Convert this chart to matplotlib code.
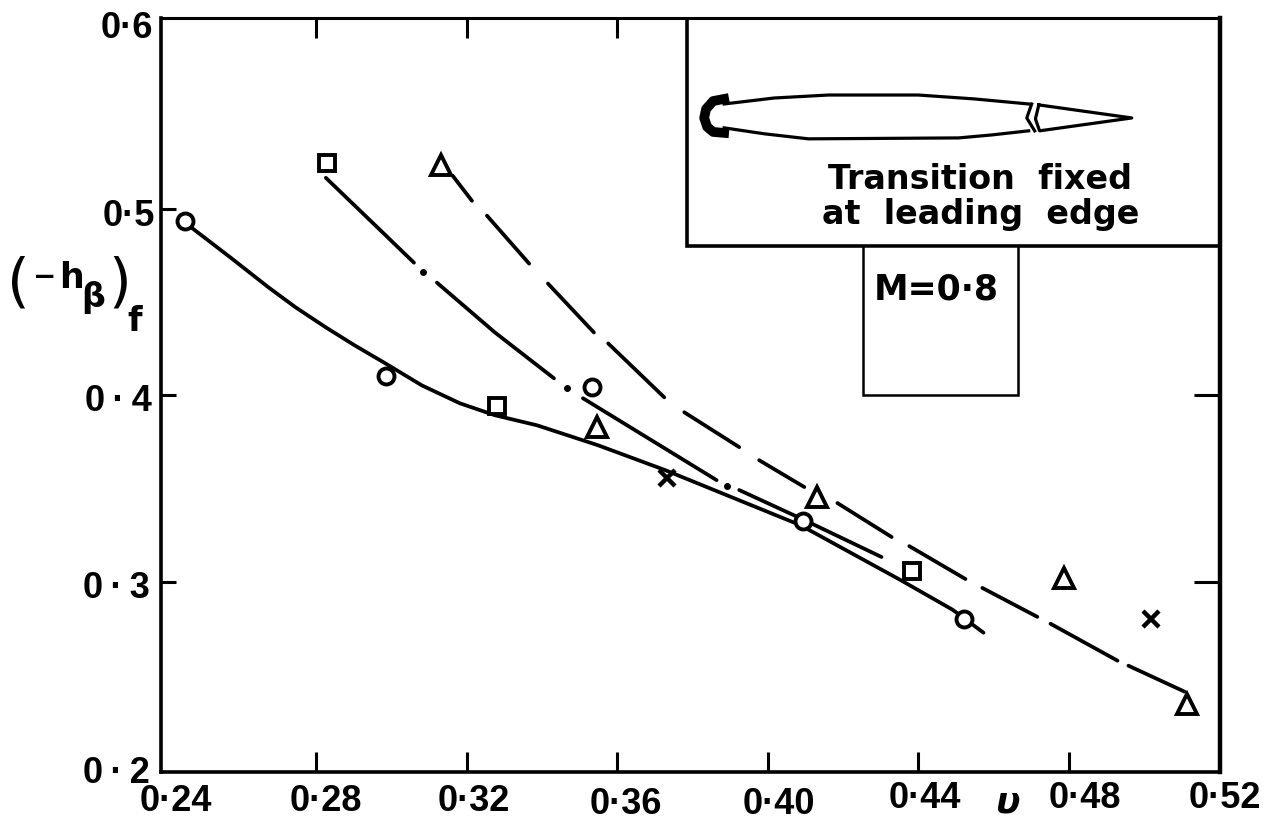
import matplotlib
matplotlib.use('Agg')
import matplotlib.pyplot as plt
from matplotlib.patches import Rectangle
from matplotlib.transforms import ScaledTranslation

circle_x = [0.2451, 0.2985, 0.3533, 0.4094, 0.4520]
circle_y = [0.4936, 0.4102, 0.4043, 0.3326, 0.2802]
square_x = [0.2828, 0.3280, 0.4384]
square_y = [0.5246, 0.3941, 0.3059]
triangle_x = [0.3131, 0.3546, 0.4131, 0.4788, 0.5113]
triangle_y = [0.5235, 0.3829, 0.3455, 0.3021, 0.2348]
cross_x = [0.3733, 0.5017]
cross_y = [0.3556, 0.2802]

solid_x = [0.2469, 0.2573, 0.2674, 0.2746, 0.2826, 0.2903, 0.2980, 0.3081, 0.3182, 0.3275, 0.3387, 0.3549, 0.3727, 0.3890, 0.4086, 0.4352, 0.4491, 0.4573]
solid_y = [0.4900, 0.4739, 0.4579, 0.4472, 0.4365, 0.4268, 0.4177, 0.4054, 0.3958, 0.3894, 0.3840, 0.3733, 0.3600, 0.3466, 0.3305, 0.3011, 0.2851, 0.2728]

# chain-dot curve, one pair of lists per stroke
chain = [
    ([0.2826, 0.2980, 0.3060], [0.5167, 0.4868, 0.4712]),
    ([0.3121, 0.3275, 0.3432], [0.4605, 0.4338, 0.4092]),
    ([0.3509, 0.3864], [0.3985, 0.3546]),
    ([0.3924, 0.4097, 0.4302], [0.3493, 0.3332, 0.3134]),
]
chain_dot_x = [0.3084, 0.3467, 0.3892]
chain_dot_y = [0.4664, 0.4038, 0.3514]

# long dashes
dashes = [
    ([0.3163, 0.3214], [0.5178, 0.5044]),
    ([0.3254, 0.3366], [0.4964, 0.4707]),
    ([0.3416, 0.3538], [0.4600, 0.4338]),
    ([0.3576, 0.3725], [0.4279, 0.3990]),
    ([0.3778, 0.3924], [0.3910, 0.3723]),
    ([0.3977, 0.4097], [0.3653, 0.3509]),
    ([0.4185, 0.4329], [0.3423, 0.3241]),
    ([0.4376, 0.4525], [0.3192, 0.3016]),
    ([0.4570, 0.4716], [0.2968, 0.2813]),
    ([0.4751, 0.4929], [0.2776, 0.2578]),
    ([0.4958, 0.5107], [0.2551, 0.2412]),
]

xticks = [0.24, 0.28, 0.32, 0.36, 0.40, 0.44, 0.48, 0.52]
xlabels = ['0·24', '0·28', '0·32', '0·36', '0·40', '0·44', '0·48', '0·52']
yticks = [0.2, 0.3, 0.4, 0.5, 0.6]
ylabels = ['0\u2009·\u20092', '0\u2009·\u20093', '0\u2009·\u20094', '0·5', '0·6']

foil_top_x = [0.3884, 0.4017, 0.4161, 0.4400, 0.4549, 0.4693]
foil_top_y = [0.5563, 0.5595, 0.5611, 0.5611, 0.5590, 0.5563]
foil_bot_x = [0.3884, 0.3991, 0.4108, 0.4507, 0.4595, 0.4693]
foil_bot_y = [0.5435, 0.5403, 0.5376, 0.5381, 0.5397, 0.5419]
notch_x = [0.4701, 0.4688, 0.4709]
notch_y = [0.5563, 0.5488, 0.5419]
flap_x = [0.4720, 0.4967, 0.4722, 0.4711, 0.4720]
flap_y = [0.5558, 0.5488, 0.5419, 0.5483, 0.5558]
nose_x = [0.3884, 0.3855, 0.3836, 0.3831, 0.3839, 0.3855, 0.3884]
nose_y = [0.5590, 0.5579, 0.5536, 0.5488, 0.5440, 0.5413, 0.5408]

W, H = 1266, 820
plt.rcParams['font.family'] = ['Liberation Sans', 'DejaVu Sans']
fig = plt.figure(figsize=(W / 100, H / 100), dpi=100)
ax = fig.add_axes([161 / W, 1 - 773 / H, (1219.5 - 161) / W, (773 - 19) / H])
ax.set_xlim(0.2388, 0.52)
ax.set_ylim(0.1981, 0.6024)
ax.spines['left'].set_linewidth(2.6)
ax.spines['bottom'].set_linewidth(2.6)
ax.spines['top'].set_linewidth(2.2)
ax.spines['right'].set_linewidth(3.2)

ax.set_xticks(xticks)
ax.set_xticklabels(xlabels, fontweight='bold')
ax.set_yticks(yticks)
ax.set_yticklabels(ylabels, fontweight='bold')
ax.tick_params(axis='x', direction='in', length=14.5, width=2.2, labelsize=26, pad=8, top=True)
ax.tick_params(axis='y', direction='in', length=11, width=2.2, labelsize=26, pad=6, right=True)

# the drawing only has some of the ticks on each side
xt = ax.xaxis.get_major_ticks()
yt = ax.yaxis.get_major_ticks()
for i in [0, 7]:
    xt[i].tick1line.set_visible(False)
for i in [0, 4, 5, 6, 7]:
    xt[i].tick2line.set_visible(False)
for i in [0, 4]:
    yt[i].tick1line.set_visible(False)
for i in [0, 3, 4]:
    yt[i].tick2line.set_visible(False)
for i in [1, 2]:
    yt[i].tick2line.set_markersize(19)

# hand lettered, so the labels do not sit square on their ticks
xlabel_dx = [10, 10, 7, 9, 11, 7, 16, 5]
xlabel_dy = [0, 0, 0, -3, -3, 3, 3, 3]
for lab, dx, dy in zip(ax.get_xticklabels(), xlabel_dx, xlabel_dy):
    lab.set_transform(lab.get_transform() + ScaledTranslation(dx / 100, dy / 100, fig.dpi_scale_trans))
ylabel_dx = [-3, -3, -1, 2, 0]
ylabel_dy = [0, -2, -1, -3, -1]
for lab, dx, dy in zip(ax.get_yticklabels(), ylabel_dx, ylabel_dy):
    lab.set_transform(lab.get_transform() + ScaledTranslation(dx / 100, dy / 100, fig.dpi_scale_trans))

lw = 2.7
ax.plot(solid_x, solid_y, color='k', lw=lw, solid_capstyle='round')
for xs, ys in chain:
    ax.plot(xs, ys, color='k', lw=lw, solid_capstyle='round')
ax.plot(chain_dot_x, chain_dot_y, 'o', color='k', ms=4)
for xs, ys in dashes:
    ax.plot(xs, ys, color='k', lw=lw, solid_capstyle='round')

ms = dict(mfc='white', mec='k', ls='none', zorder=5)
ax.plot(circle_x, circle_y, 'o', ms=11.5, mew=2.8, **ms)
ax.plot(square_x, square_y, 's', ms=12, mew=2.8, **ms)
ax.plot(triangle_x, triangle_y, '^', ms=15, mew=2.8, **ms)
ax.plot(cross_x, cross_y, 'x', color='k', ms=11, mew=3.2, ls='none', zorder=5)

# inset frame and M box
ax.add_patch(Rectangle((0.3785, 0.4803), 0.1415, 0.1221, fc='white', ec='k', lw=2.6, zorder=2))
ax.add_patch(Rectangle((0.4254, 0.4000), 0.0410, 0.0803, fc='white', ec='k', lw=1.8, zorder=2))

for xs, ys in [(foil_top_x, foil_top_y), (foil_bot_x, foil_bot_y), (notch_x, notch_y), (flap_x, flap_y)]:
    ax.plot(xs, ys, color='k', lw=2.3, zorder=3)
ax.plot(nose_x, nose_y, color='k', lw=7, zorder=3)

ax.text(0.4565, 0.5162, 'Transition  fixed', ha='center', va='center', fontsize=24, fontweight='bold', family='DejaVu Sans', zorder=4)
ax.text(0.4565, 0.4975, 'at  leading  edge', ha='center', va='center', fontsize=24, fontweight='bold', family='DejaVu Sans', zorder=4)
ax.text(0.4448, 0.4573, 'M=0·8', ha='center', va='center', fontsize=25, fontweight='bold', family='DejaVu Sans', zorder=4)


def px_text(x, y, s, size, **kw):
    fig.text(x / W, 1 - y / H, s, fontsize=size, ha='center', va='center', **kw)


px_text(1007, 803, 'υ', 26, family='DejaVu Sans', style='italic', fontweight='bold')

# y axis title, put together piece by piece
px_text(18, 284, '(', 42, family='DejaVu Sans')
px_text(45, 277, '\u2212', 20, family='DejaVu Sans', fontweight='bold')
px_text(72, 278, 'h', 25, family='DejaVu Sans', fontweight='bold')
px_text(93, 297, 'β', 24, family='DejaVu Sans', fontweight='bold')
px_text(120, 284, ')', 42, family='DejaVu Sans')
px_text(135, 322, 'f', 24, family='DejaVu Sans', fontweight='bold')

fig.savefig('out.png', dpi=100)
